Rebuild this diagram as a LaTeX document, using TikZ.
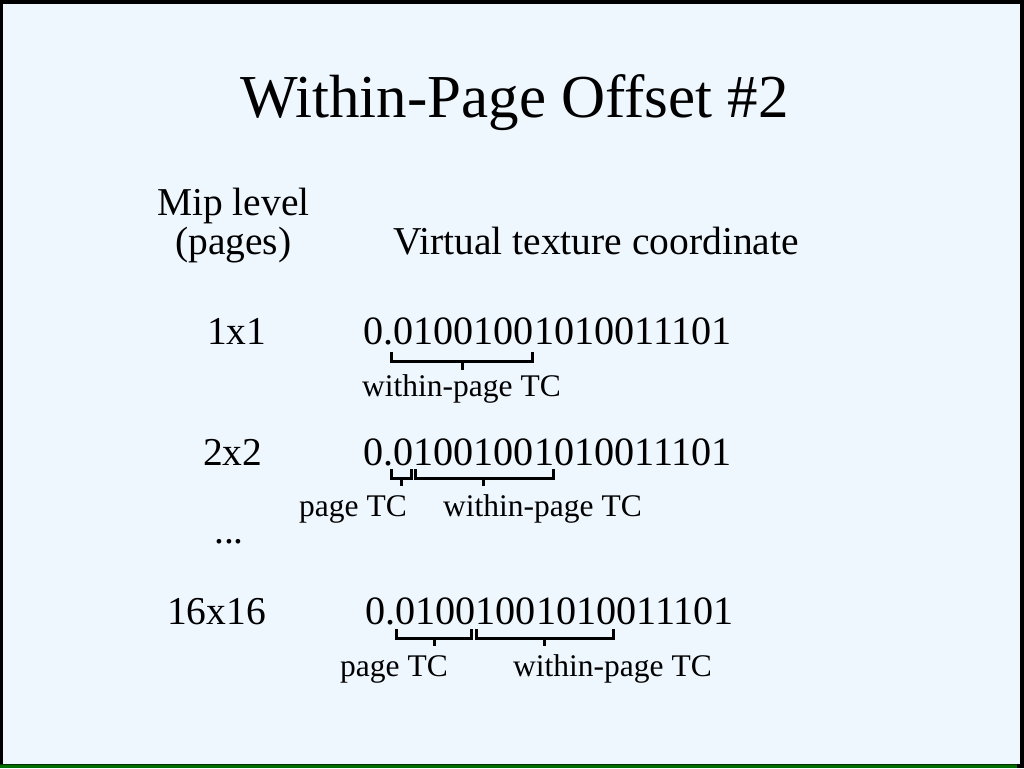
\documentclass[tikz,border=0pt]{standalone}
\usepackage{fontspec}
\setmainfont{Liberation Serif}
\definecolor{slidebg}{RGB}{238,246,254}
\definecolor{slidegreen}{RGB}{0,110,0}
\definecolor{darkgreen}{RGB}{0,50,0}
\begin{document}
\begin{tikzpicture}[x=1pt,y=-1pt,
  txt/.style={inner sep=0pt,anchor=base west,font=\fontsize{39.5}{46}\selectfont},
  num/.style={inner sep=0pt,anchor=base west,font=\fontsize{40.2}{46}\selectfont},
  lbl/.style={inner sep=0pt,anchor=base west,font=\fontsize{31.5}{36}\selectfont},
  ttl/.style={inner sep=0pt,anchor=base west,font=\fontsize{61}{72}\selectfont},
  brk/.style={line width=3pt,line cap=butt,line join=miter}]
\useasboundingbox (0,0) rectangle (1024,768);
% frame
\fill[black] (0,0) rectangle (1024,768);
\fill[slidebg] (3,4) rectangle (1020,764);
\fill[darkgreen] (0,763.5) rectangle (1017,765);
\fill[slidegreen] (0,765) rectangle (1017,768);
% title
\node[ttl] (title) at (240,117) {Within-Page Offset \#2};
% headers
\node[txt] (mip) at (157,215) {Mip level};
\node[txt] (pages) at (175,254) {(pages)};
\node[txt] (vtc) at (393,254) {Virtual texture coordinate};
% rows
\node[txt] (l1) at (207,344) {1x1};
\node[num] (n1) at (363,344) {0.01001001010011101};
\node[txt] (l2) at (203,465) {2x2};
\node[num] (n2) at (363,465) {0.01001001010011101};
\node[txt] (dots) at (214,543) {...};
\node[txt] (l3) at (167,624) {16x16};
\node[num] (n3) at (365,624) {0.01001001010011101};
% labels
\node[lbl] (w1) at (362,396) {within-page TC};
\node[lbl] (p2) at (299,516) {page TC};
\node[lbl] (w2) at (443,516) {within-page TC};
\node[lbl] (p3) at (340,676) {page TC};
\node[lbl] (w3) at (513,676) {within-page TC};
% brackets
\draw[brk] (391.7,352) -- (391.7,361) -- (532.7,361) -- (532.7,352);
\draw[brk] (462,361) -- (462,370);
\draw[brk] (391.7,469) -- (391.7,478) -- (411,478) -- (411,469);
\draw[brk] (401,478) -- (401,486);
\draw[brk] (415,469) -- (415,478) -- (553,478) -- (553,469);
\draw[brk] (483,478) -- (483,486);
\draw[brk] (396.7,629) -- (396.7,638) -- (471.7,638) -- (471.7,629);
\draw[brk] (434,638) -- (434,646);
\draw[brk] (476.7,629) -- (476.7,638) -- (613.3,638) -- (613.3,629);
\draw[brk] (544,638) -- (544,646);
\end{tikzpicture}
\end{document}
